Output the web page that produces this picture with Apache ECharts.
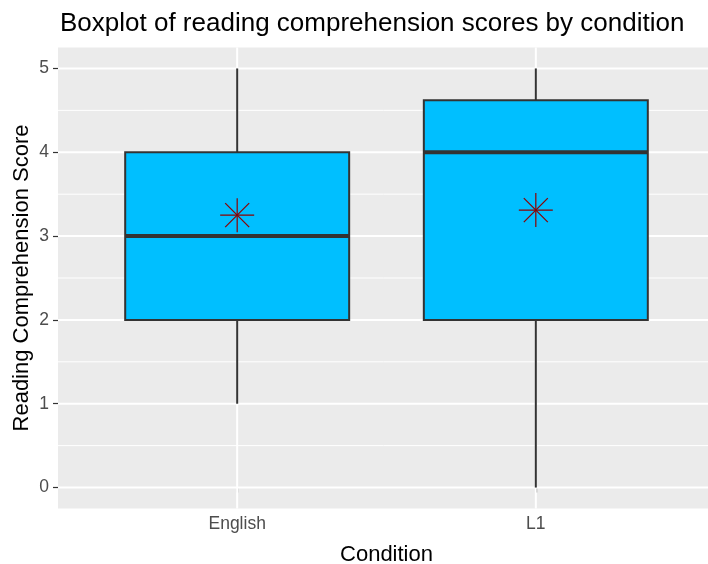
<!DOCTYPE html>
<html>
<head>
<meta charset="utf-8">
<script src="https://cdn.jsdelivr.net/npm/echarts@6/dist/echarts.min.js"></script>
<style>html,body{margin:0;padding:0;background:#fff;}#c{width:708px;height:564px;}</style>
</head>
<body>
<div id="c"></div>
<script>
const categories = ['English', 'L1'];
const whiskerLow = [1, 0];
const q1 = [2, 2];
const median = [3, 4];
const q3 = [4, 4.62];
const whiskerHigh = [5, 5];
const means = [3.25, 3.31];
const yTicks = [0, 1, 2, 3, 4, 5];
const yMinor = [0.5, 1.5, 2.5, 3.5, 4.5];
const xPositions = [1, 2];

const FONT = 'Arial, "Liberation Sans", sans-serif';
const X_MIN = 0.4, X_MAX = 2.6, Y_MIN = -0.25, Y_MAX = 5.25;

const boxData = categories.map((c, i) => [xPositions[i], whiskerLow[i], q1[i], median[i], q3[i], whiskerHigh[i]]);
const meanData = categories.map((c, i) => [xPositions[i], means[i]]);

function hLine(api, y, w) {
  const a = api.coord([X_MIN, y]), b = api.coord([X_MAX, y]);
  return { type: 'line', shape: { x1: a[0], y1: a[1], x2: b[0], y2: b[1] }, style: { stroke: '#FFFFFF', lineWidth: w } };
}
function vLine(api, x, w) {
  const a = api.coord([x, Y_MIN]), b = api.coord([x, Y_MAX]);
  return { type: 'line', shape: { x1: a[0], y1: a[1], x2: b[0], y2: b[1] }, style: { stroke: '#FFFFFF', lineWidth: w } };
}

const chart = echarts.init(document.getElementById('c'), null, { renderer: 'canvas' });
chart.setOption({
  animation: false,
  backgroundColor: '#FFFFFF',
  title: {
    text: 'Boxplot of reading comprehension scores by condition',
    left: 55, top: 6,
    textStyle: { fontFamily: FONT, fontSize: 26, fontWeight: 'normal', color: '#000000' }
  },
  grid: {
    left: 58, top: 47.5, width: 657, height: 461,
    show: true, backgroundColor: '#EBEBEB', borderWidth: 0,
    containLabel: false, outerBoundsMode: 'none'
  },
  xAxis: {
    type: 'value', min: X_MIN, max: X_MAX,
    name: 'Condition', nameLocation: 'middle', nameGap: 35,
    nameTextStyle: { fontFamily: FONT, fontSize: 22, color: '#000000' },
    axisLine: { show: false },
    axisTick: { show: true, customValues: xPositions, length: 5, lineStyle: { color: '#333333', width: 1.2 } },
    axisLabel: {
      customValues: xPositions, margin: 7,
      formatter: v => categories[xPositions.indexOf(v)] || '',
      fontFamily: FONT, fontSize: 17.5, color: '#4D4D4D'
    },
    splitLine: { show: false }
  },
  yAxis: {
    type: 'value', min: Y_MIN, max: Y_MAX,
    name: 'Reading Comprehension Score', nameLocation: 'middle', nameGap: 25, nameRotate: 90,
    nameMoveOverlap: false,
    nameTextStyle: { fontFamily: FONT, fontSize: 22, color: '#000000' },
    axisLine: { show: false },
    axisTick: { show: true, customValues: yTicks, length: 5, lineStyle: { color: '#333333', width: 1.2 } },
    axisLabel: {
      customValues: yTicks, margin: 9,
      fontFamily: FONT, fontSize: 17.5, color: '#4D4D4D'
    },
    splitLine: { show: false }
  },
  series: [
    {
      type: 'custom', name: 'minorGrid', z: 1, silent: true,
      data: yMinor.map(v => [v]),
      renderItem: (params, api) => hLine(api, api.value(0), 1)
    },
    {
      type: 'custom', name: 'majorGrid', z: 1, silent: true,
      data: yTicks.map(v => [v]),
      renderItem: (params, api) => hLine(api, api.value(0), 2)
    },
    {
      type: 'custom', name: 'xGrid', z: 1, silent: true,
      data: xPositions.map(v => [v]),
      renderItem: (params, api) => vLine(api, api.value(0), 2)
    },
    {
      type: 'custom', name: 'box', z: 2,
      data: boxData,
      renderItem: (params, api) => {
        const x = api.value(0), lo = api.value(1), b1 = api.value(2), md = api.value(3), b3 = api.value(4), hi = api.value(5);
        const hw = 0.375;
        const tl = api.coord([x - hw, b3]), br = api.coord([x + hw, b1]);
        const wt = api.coord([x, hi]), wq3 = api.coord([x, b3]);
        const wb = api.coord([x, lo]), wq1 = api.coord([x, b1]);
        const ml = api.coord([x - hw, md]), mr = api.coord([x + hw, md]);
        const ls = { stroke: '#333333', lineWidth: 2 };
        return {
          type: 'group',
          children: [
            { type: 'line', shape: { x1: wt[0], y1: wt[1], x2: wq3[0], y2: wq3[1] }, style: ls },
            { type: 'line', shape: { x1: wb[0], y1: wb[1], x2: wq1[0], y2: wq1[1] }, style: ls },
            { type: 'rect', shape: { x: tl[0], y: tl[1], width: br[0] - tl[0], height: br[1] - tl[1] },
              style: { fill: '#00BFFF', stroke: '#333333', lineWidth: 2 } },
            { type: 'line', shape: { x1: ml[0], y1: ml[1], x2: mr[0], y2: mr[1] }, style: { stroke: '#333333', lineWidth: 4 } }
          ]
        };
      }
    },
    {
      type: 'custom', name: 'mean', z: 3,
      data: meanData,
      renderItem: (params, api) => {
        const p = api.coord([api.value(0), api.value(1)]);
        const r = 17, d = 12;
        const st = { stroke: '#8B0000', lineWidth: 1.2 };
        return {
          type: 'group',
          children: [
            { type: 'line', shape: { x1: p[0] - r, y1: p[1], x2: p[0] + r, y2: p[1] }, style: st },
            { type: 'line', shape: { x1: p[0], y1: p[1] - r, x2: p[0], y2: p[1] + r }, style: st },
            { type: 'line', shape: { x1: p[0] - d, y1: p[1] - d, x2: p[0] + d, y2: p[1] + d }, style: st },
            { type: 'line', shape: { x1: p[0] - d, y1: p[1] + d, x2: p[0] + d, y2: p[1] - d }, style: st }
          ]
        };
      }
    }
  ]
});
</script>
</body>
</html>
